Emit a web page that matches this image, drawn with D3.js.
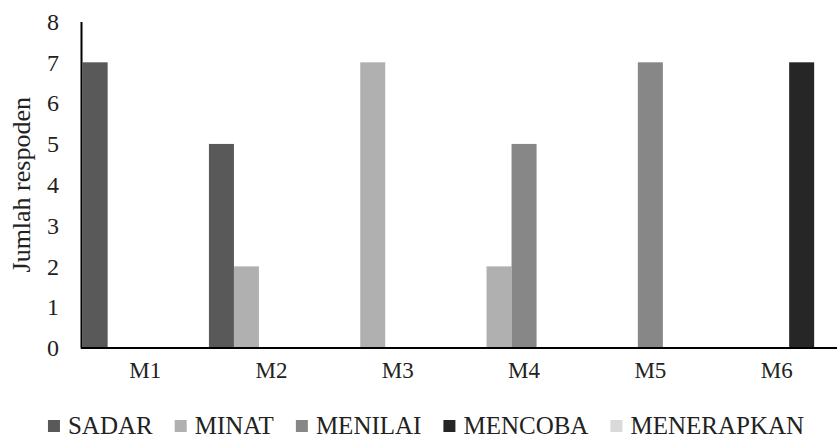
<!DOCTYPE html>
<html><head><meta charset="utf-8">
<script src="https://cdn.jsdelivr.net/npm/d3@7"></script>
<style>html,body{margin:0;padding:0;background:#fff;}svg{display:block;}</style>
</head><body>
<svg id="chart" width="837" height="441"></svg>
<script>
const categories = ["M1","M2","M3","M4","M5","M6"];
const seriesNames = ["SADAR","MINAT","MENILAI","MENCOBA","MENERAPKAN"];
const sadar      = [7,5,0,0,0,0];
const minat      = [0,2,7,2,0,0];
const menilai    = [0,0,0,5,7,0];
const mencoba    = [0,0,0,0,0,7];
const menerapkan = [0,0,0,0,0,0];
const yTicks = [0,1,2,3,4,5,6,7,8];
const colors = ["#595959","#b0b0b0","#878787","#262626","#d9d9d9"];

const seriesValues = [sadar, minat, menilai, mencoba, menerapkan];
const font = "'Liberation Serif','Times New Roman',serif";
const svg = d3.select("#chart");
const mLeft = 82, mRight = 82 + 6*126.3, mTop = 21.5, mBottom = 348;

const x = d3.scaleBand().domain(categories).range([mLeft, mRight]).paddingInner(0.01).paddingOuter(0.005);
const x1 = d3.scaleBand().domain(seriesNames).range([0, x.bandwidth()]).padding(0);
const y = d3.scaleLinear().domain([0, 8]).range([mBottom, mTop]);

// bars
categories.forEach((c, ci) => {
  const g = svg.append("g").attr("transform", `translate(${x(c)},0)`);
  seriesNames.forEach((s, si) => {
    const v = seriesValues[si][ci];
    if (v > 0) {
      g.append("rect")
        .attr("x", x1(s)).attr("width", x1.bandwidth())
        .attr("y", y(v)).attr("height", y(0) - y(v))
        .attr("fill", colors[si]);
    }
  });
});

// y axis
const yAxis = d3.axisLeft(y).tickValues(yTicks).tickSize(0).tickPadding(22);
const yg = svg.append("g").attr("transform", `translate(${mLeft-1},0)`).call(yAxis);
yg.select(".domain").attr("stroke", "#000").attr("stroke-width", 2);
yg.selectAll("text").attr("font-family", font).attr("font-size", 24).attr("fill", "#222");

// x axis
const xAxis = d3.axisBottom(x).tickSize(0).tickPadding(14);
const xg = svg.append("g").attr("transform", `translate(0,${mBottom})`).call(xAxis);
xg.select(".domain").attr("d", `M${mLeft-1},0H837`).attr("stroke", "#000").attr("stroke-width", 2);
xg.selectAll("text").attr("font-family", font).attr("font-size", 23).attr("fill", "#222");

// y title
svg.append("text")
  .attr("transform", `translate(30,${(mTop+mBottom)/2}) rotate(-90)`)
  .attr("text-anchor", "middle")
  .attr("font-family", font).attr("font-size", 26).attr("fill", "#222")
  .text("Jumlah respoden");

// legend
const lg = svg.append("g");
let cx = 0;
seriesNames.forEach((s, i) => {
  const item = lg.append("g").attr("transform", `translate(${cx},0)`);
  item.append("rect").attr("x", 0).attr("y", -14).attr("width", 12).attr("height", 12).attr("fill", colors[i]);
  const t = item.append("text").attr("x", 20).attr("y", 0)
    .attr("font-family", font).attr("font-size", 25).attr("fill", "#222").text(s);
  cx += 20 + t.node().getComputedTextLength() + 22;
});
const totalW = cx - 22;
lg.attr("transform", `translate(${426 - totalW/2},434)`);
</script>
</body></html>
